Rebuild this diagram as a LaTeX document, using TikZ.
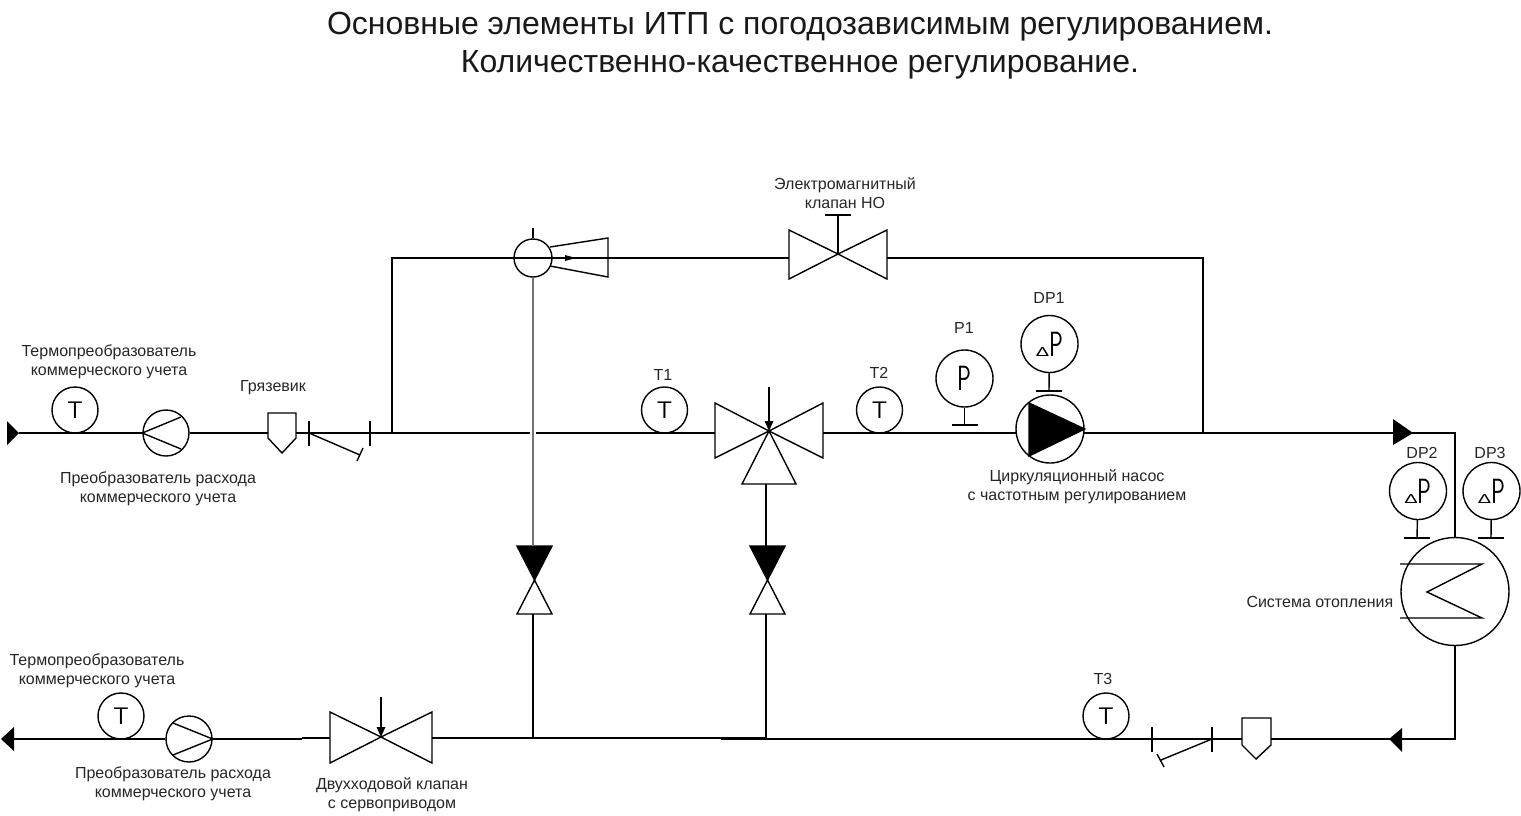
\documentclass[tikz,border=0pt]{standalone}
\usepackage{fontspec}
\setmainfont{Liberation Sans}
\tikzset{
	pipe/.style={line width=1.6pt},
	gauge/.style={circle,draw,fill=white,line width=1.4pt,inner sep=0pt},
	lbl/.style={font=\fontsize{16}{19}\selectfont,align=center,inner sep=0pt,text=black!85},
	ttl/.style={font=\fontsize{32}{38}\selectfont,align=center,inner sep=0pt,text=black!90}
}
\newcommand{\letterT}{\sffamily\fontsize{24}{24}\selectfont T}
\newcommand{\letterP}{\sffamily\fontsize{35}{35}\selectfont\scalebox{.66}[1]{P}}
\newcommand{\letterDP}{{\fontsize{20}{20}\selectfont\scalebox{1}[.65]{Δ}}\letterP}
\begin{document}
\begin{tikzpicture}[x=1pt,y=-1pt,line width=1.4pt]
	\useasboundingbox (0,0) rectangle (1521,815);
	\node[ttl] (title) at (800,45.5) {Основные элементы ИТП с погодозависимым регулированием.\\Количественно-качественное регулирование.};
	% supply line
	\coordinate (inlet) at (19,433);
	\coordinate (branchL) at (392,433);
	\coordinate (branchR) at (1203,433);
	\coordinate (cornerL) at (392,258);
	\coordinate (cornerR) at (1203,258);
	\coordinate (tipS) at (1413,433);
	\coordinate (cornerS) at (1455,433);
	\fill (7,421)--(7,445)--(inlet)--cycle;
	\fill (1393,419)--(1393,445)--(tipS)--cycle;
	% gauges
	\foreach \n/\x/\y in {tempA/75/410, tempB/664.5/410, tempC/879.5/410, tempD/1106/716, tempE/121/716}{
		\node[gauge,minimum size=46pt] (\n) at (\x,\y) {\letterT};}
	\node[gauge,minimum size=57pt] (pressA) at (964.5,378.5) {\letterP};
	\foreach \n/\x/\y in {dpA/1049.5/344, dpB/1418/491, dpC/1491.5/491}{
		\node[gauge,minimum size=57pt] (\n) at (\x,\y) {\letterDP};}
	\foreach \n/\x/\y/\b in {pressA/964.5/425/stemP, dpA/1049/391/stemA, dpB/1417/538/stemB, dpC/1491/538/stemC}{
		\coordinate (\b) at (\x,\y);
		\draw (\n) -- (\b);
		\draw ([xshift=-13pt]\b) -- ([xshift=13pt]\b);}
	% flow meters
	\node[gauge,minimum size=46pt] (flowA) at (166,433) {};
	\node[gauge,minimum size=46pt] (flowB) at (189,739) {};
	\draw (181,417)--(flowA.west)--(181,449);
	\draw (173,723)--(flowB.east)--(173,755);
	% strainers
	\draw (268,413)--(296,413)--(296,438)--(282,453)--(268,438)--cycle;
	\draw (1242,718)--(1271,718)--(1271,745)--(1256,759)--(1242,745)--cycle;
	\coordinate (strAin) at (268,433);
	\coordinate (strAout) at (296,433);
	\coordinate (strBin) at (1271,739);
	\coordinate (strBout) at (1242,739);
	% check valves
	\foreach \x in {309,370}{\draw (\x,421)--(\x,446);}
	\foreach \x in {1152,1212}{\draw (\x,727)--(\x,752);}
	\coordinate (chkA) at (309,433);
	\coordinate (chkD) at (1212,739);
	\draw (chkA)--(360,455) (357,461)--(363,448);
	\draw (chkD)--(1161,760) (1157,754)--(1164,767);
	% three way valve
	\coordinate (mix) at (769,431);
	\coordinate (mixIn) at (715,433);
	\coordinate (mixOut) at (823,433);
	\draw (715,403)--(715,458)--(mix)--cycle;
	\draw (823,403)--(823,458)--(mix)--cycle;
	\draw (742,484)--(796,484)--(mix)--cycle;
	\draw (769,387)--(769,425);
	\fill (764.5,421)--(773.5,421)--(mix)--cycle;
	% pump
	\node[gauge,minimum size=68pt] (pump) at (1050,429) {};
	\coordinate (pumpIn) at (1016,433);
	\coordinate (pumpOut) at (1084,433);
	\fill (1029,403)--(1029,456)--(pump.east)--cycle;
	\draw (1029,403)--(1029,456)--(pump.east)--cycle;
	% solenoid valve
	\coordinate (solC) at (838,254);
	\coordinate (solIn) at (789,258);
	\coordinate (solOut) at (887,258);
	\draw (789,230)--(789,279)--(solC)--cycle;
	\draw (887,230)--(887,279)--(solC)--cycle;
	\draw (solC)--(838,215) (825,215)--(851,215);
	% ejector
	\node[gauge,fill=none,minimum size=38pt] (ejector) at (533,258) {};
	\draw (550,247)--(608,238)--(608,277)--(550,266);
	\draw (ejector.north)--(533,228);
	\fill (565,255)--(565,261)--(576,258)--cycle;
	% balancing valves
	\foreach \n/\x in {valA/534.5, valB/767.5}{
		\coordinate (\n) at (\x,580);
		\fill (\x-17.5,546)--(\x+17.5,546)--(\n)--cycle;
		\draw (\x-17.5,546)--(\x+17.5,546)--(\n)--cycle;
		\draw (\x-17.5,614)--(\x+17.5,614)--(\n)--cycle;}
	% two way valve
	\coordinate (twoC) at (381,737);
	\coordinate (twoIn) at (432,738);
	\coordinate (twoOut) at (330,738);
	\draw (330,712)--(330,763)--(twoC)--cycle;
	\draw (432,712)--(432,763)--(twoC)--cycle;
	\draw (381,697)--(381,732);
	\fill (376.5,727)--(385.5,727)--(twoC)--cycle;
	% heating system
	\node[gauge,fill=none,minimum size=108pt] (heater) at (1455,591.5) {};
	\draw (1400,564)--(1482,564)--(1427,592)--(1482,618)--(1400,618);
	% pipes
	\draw[pipe] (inlet)--(flowA.west) (flowA.east)--(strAin);
	\draw[pipe] (strAout)--(branchL)--(530,433) (536,433)--(mixIn);
	\draw[pipe] (branchL)--(cornerL)--(solIn) (solOut)--(cornerR)--(branchR);
	\draw[pipe] (mixOut)--(pumpIn) (pumpOut)--(branchR)--(tipS);
	\draw[pipe] (tipS)--(cornerS)--(heater.north);
	\draw[pipe,black!55] (ejector.south)--(533,546);
	\draw[pipe] (533,614)--(533,738);
	\draw[pipe] (766,484)--(766,546) (766,614)--(766,738);
	\draw[pipe] (twoIn)--(766,738);
	\draw[pipe] (721,739)--(strBout) (strBin)--(1402,739);
	\coordinate (cornerH) at (1455,739);
	\draw[pipe] (1402,739)--(cornerH)--(heater.south);
	\fill (1402,728)--(1402,752)--(1389,739)--cycle;
	\draw[pipe] (flowB.east)--(302,739) (302,738)--(twoOut) (14,739)--(flowB.west);
	\fill (14,727)--(14,751)--(1,739)--cycle;
	% labels
	\node[lbl] (lblTempA) at (109,362) {Термопреобразователь\\коммерческого учета};
	\node[lbl] (lblStr) at (273,388) {Грязевик};
	\node[lbl] (lblFlowA) at (158,489) {Преобразователь расхода\\коммерческого учета};
	\node[lbl] (lblTempE) at (97,671) {Термопреобразователь\\коммерческого учета};
	\node[lbl] (lblFlowB) at (173,784) {Преобразователь расхода\\коммерческого учета};
	\node[lbl] (lblTwo) at (392,795) {Двухходовой клапан\\с сервоприводом};
	\node[lbl] (lblPump) at (1077,487) {Циркуляционный насос\\с частотным регулированием};
	\node[lbl] (lblSol) at (845,193) {Электромагнитный\\клапан НО};
	\node[lbl,anchor=east] (lblHeat) at (1394,602) {Система отопления};
	\foreach \n/\x/\y/\t in {lT1/663/375/T1, lT2/879/373/T2, lP1/964/328/P1, lDP1/1049/298/DP1, lDP2/1422/453/DP2, lDP3/1490/453/DP3, lT3/1103/679/T3}{
		\node[lbl] (\n) at (\x,\y) {\t};}
\end{tikzpicture}
\end{document}
